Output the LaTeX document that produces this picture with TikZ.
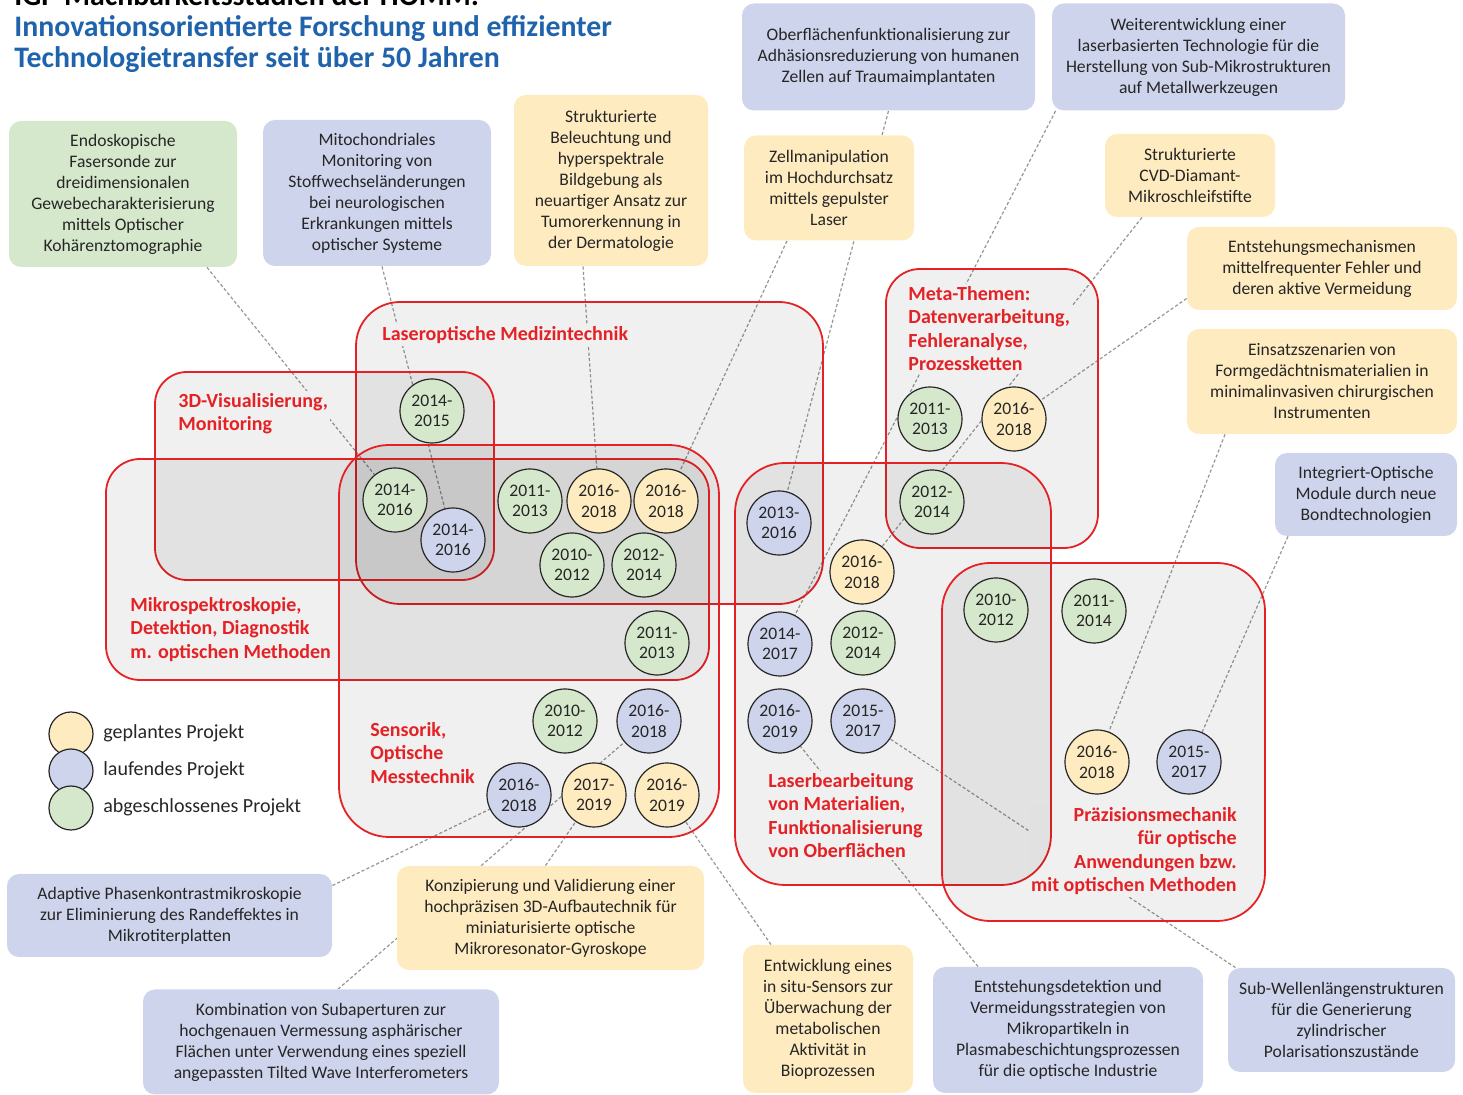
\documentclass[tikz,border=0pt]{standalone}
\usepackage{fontspec}
\setmainfont{Carlito}
\usepackage{tikz}
\usetikzlibrary{calc}

\definecolor{titleblue}{RGB}{31,99,172}
\definecolor{areared}{RGB}{228,34,38}
\definecolor{planfill}{RGB}{255,235,192}
\definecolor{runfill}{RGB}{206,212,236}
\definecolor{donefill}{RGB}{213,232,203}
\definecolor{inktext}{RGB}{38,38,38}
\definecolor{linkgray}{RGB}{150,150,150}

\pgfdeclarelayer{links}
\pgfdeclarelayer{areas}
\pgfsetlayers{links,areas,main}

\begin{document}
\begin{tikzpicture}[x=0.5pt, y=-0.5pt,
    boxbase/.style={rounded corners=6pt, align=center, inner sep=2pt, text=inktext,
      font=\fontsize{8.8}{10.5}\selectfont},
    pbox/.style={boxbase, fill=planfill},
    rbox/.style={boxbase, fill=runfill},
    dbox/.style={boxbase, fill=donefill},
    circbase/.style={circle, draw=black!85, line width=0.6pt, minimum size=32pt, inner sep=0pt,
      align=center, text=inktext, font=\fontsize{8.8}{10.3}\selectfont},
    pcirc/.style={circbase, fill=planfill},
    rcirc/.style={circbase, fill=runfill},
    dcirc/.style={circbase, fill=donefill},
    areabox/.style={draw=areared, line width=0.9pt, fill=black, fill opacity=0.06},
    topic/.style={text=areared, font=\bfseries\fontsize{10}{11.75}\selectfont, inner sep=1pt},
    link/.style={draw=linkgray, line width=0.6pt, dash pattern=on 1.6pt off 1.1pt},
    headline/.style={anchor=base west, inner sep=0pt, font=\bfseries\fontsize{14.9}{15.5}\selectfont},
    legtext/.style={anchor=west, inner sep=0pt, text=inktext, font=\fontsize{10}{12}\selectfont}
  ]
    \useasboundingbox (0,0) rectangle (1463,1095);

    % title
    \node[headline] (title0) at (14,6) {IGF-Machbarkeitsstudien der HOMM:};
    \node[headline, text=titleblue] (title1) at (14,37) {Innovationsorientierte Forschung und effizienter};
    \node[headline, text=titleblue] (title2) at (14,68) {Technologietransfer seit über 50 Jahren};

    % project boxes, top row
    \node[dbox, minimum width=114pt, minimum height=73pt] (endo) at (123,194)
      {Endoskopische\\Fasersonde zur\\dreidimensionalen\\Gewebecharakterisierung\\mittels Optischer\\Kohärenztomographie};
    \node[rbox, minimum width=114pt, minimum height=73pt] (mito) at (377,193)
      {Mitochondriales\\Monitoring von\\Stoffwechseländerungen\\bei neurologischen\\Erkrankungen mittels\\optischer Systeme};
    \node[pbox, minimum width=97pt, minimum height=85.5pt] (hyper) at (611,180.5)
      {Strukturierte\\Beleuchtung und\\hyperspektrale\\Bildgebung als\\neuartiger Ansatz zur\\Tumorerkennung in\\der Dermatologie};
    \node[rbox, minimum width=146.5pt, minimum height=53.5pt] (adh) at (888.5,57)
      {Oberflächenfunktionalisierung zur\\Adhäsionsreduzierung von humanen\\Zellen auf Traumaimplantaten};
    \node[rbox, minimum width=146.5pt, minimum height=53.5pt] (sub) at (1198.5,57)
      {Weiterentwicklung einer\\laserbasierten Technologie für die\\Herstellung von Sub-Mikrostrukturen\\auf Metallwerkzeugen};
    \node[pbox, minimum width=85pt, minimum height=52.5pt] (zell) at (829,188)
      {Zellmanipulation\\im Hochdurchsatz\\mittels gepulster\\Laser};

    % project boxes, right column
    \node[pbox, minimum width=85pt, minimum height=41.5pt] (cvd) at (1190,175.5)
      {Strukturierte\\CVD-Diamant-\\Mikroschleifstifte};
    \node[pbox, minimum width=135pt, minimum height=41.5pt] (mfehler) at (1322,268.5)
      {Entstehungsmechanismen\\mittelfrequenter Fehler und\\deren aktive Vermeidung};
    \node[pbox, minimum width=135pt, minimum height=52.5pt] (form) at (1322,381.5)
      {Einsatzszenarien von\\Formgedächtnismaterialien in\\minimalinvasiven chirurgischen\\Instrumenten};
    \node[rbox, minimum width=91pt, minimum height=41.5pt] (bond) at (1366,494.5)
      {Integriert-Optische\\Module durch neue\\Bondtechnologien};

    % project boxes, bottom row
    \node[rbox, minimum width=162.5pt, minimum height=41.5pt] (phasen) at (169.5,915.5)
      {Adaptive Phasenkontrastmikroskopie\\zur Eliminierung des Randeffektes in\\Mikrotiterplatten};
    \node[pbox, minimum width=153.5pt, minimum height=52pt] (gyro) at (550.5,918)
      {Konzipierung und Validierung einer\\hochpräzisen 3D-Aufbautechnik für\\miniaturisierte optische\\Mikroresonator-Gyroskope};
    \node[rbox, minimum width=178pt, minimum height=52.5pt] (twi) at (321,1042)
      {Kombination von Subaperturen zur\\hochgenauen Vermessung asphärischer\\Flächen unter Verwendung eines speziell\\angepassten Tilted Wave Interferometers};
    \node[pbox, minimum width=85pt, minimum height=74pt] (insitu) at (828,1019)
      {Entwicklung eines\\in situ-Sensors zur\\Überwachung der\\metabolischen\\Aktivität in\\Bioprozessen};
    \node[rbox, minimum width=135pt, minimum height=63pt] (plasma) at (1068,1030)
      {Entstehungsdetektion und\\Vermeidungsstrategien von\\Mikropartikeln in\\Plasmabeschichtungsprozessen\\für die optische Industrie};
    \node[rbox, minimum width=113.5pt, minimum height=52pt] (polar) at (1341.5,1020)
      {Sub-Wellenlängenstrukturen\\für die Generierung\\zylindrischer\\Polarisationszustände};

    % topic labels
    \node[topic, anchor=north west, align=left] (labmed) at (380,324) {Laseroptische Medizintechnik};
    \node[topic, anchor=north west, align=left] (labvis) at (176,391) {3D-Visualisierung,\\Monitoring};
    \node[topic, anchor=north west, align=left] (labspec) at (128,595)
      {Mikrospektroskopie,\\Detektion, Diagnostik\\m. optischen Methoden};
    \node[topic, anchor=north west, align=left] (labsens) at (368,720) {Sensorik,\\Optische\\Messtechnik};
    \node[topic, anchor=north west, align=left] (labmeta) at (906,284)
      {Meta-Themen:\\Datenverarbeitung,\\Fehleranalyse,\\Prozessketten};
    \node[topic, anchor=north west, align=left] (lablaser) at (766,771)
      {Laserbearbeitung\\von Materialien,\\Funktionalisierung\\von Oberflächen};
    \node[topic, anchor=north east, align=right] (labprec) at (1239,805)
      {Präzisionsmechanik\\für optische\\Anwendungen bzw.\\mit optischen Methoden};

    % projects: medical technology and microspectroscopy
    \node[dcirc] (m1) at (432,411) {2014-\\2015};
    \node[dcirc] (m2) at (395,500) {2014-\\2016};
    \node[rcirc] (m3) at (453,540) {2014-\\2016};
    \node[dcirc] (m4) at (530,501) {2011-\\2013};
    \node[pcirc] (m5) at (599,501) {2016-\\2018};
    \node[pcirc] (m6) at (666,501) {2016-\\2018};
    \node[dcirc] (m7) at (572,565) {2010-\\2012};
    \node[dcirc] (m8) at (644,565) {2012-\\2014};
    \node[dcirc] (m9) at (657,643) {2011-\\2013};

    % projects: sensors
    \node[dcirc] (s1) at (565,721) {2010-\\2012};
    \node[rcirc] (s2) at (649,721) {2016-\\2018};
    \node[rcirc] (s3) at (519,795) {2016-\\2018};
    \node[pcirc] (s4) at (594,795) {2017-\\2019};
    \node[pcirc] (s5) at (667,795) {2016-\\2019};

    % projects: meta topics
    \node[dcirc] (t1) at (930,419) {2011-\\2013};
    \node[pcirc] (t2) at (1014,419) {2016-\\2018};
    \node[dcirc] (t3) at (932,502) {2012-\\2014};

    % projects: laser processing
    \node[rcirc] (l1) at (779,523) {2013-\\2016};
    \node[pcirc] (l2) at (862,572) {2016-\\2018};
    \node[rcirc] (l3) at (780,644) {2014-\\2017};
    \node[dcirc] (l4) at (863,643) {2012-\\2014};
    \node[rcirc] (l5) at (780,721) {2016-\\2019};
    \node[rcirc] (l6) at (863,721) {2015-\\2017};

    % projects: precision mechanics
    \node[dcirc] (g1) at (996,610) {2010-\\2012};
    \node[dcirc] (g2) at (1094,611) {2011-\\2014};
    \node[pcirc] (g3) at (1097,762) {2016-\\2018};
    \node[rcirc] (g4) at (1189,762) {2015-\\2017};

    % legend
    \node[pcirc, minimum size=22pt] (keyplan) at (71,734) {};
    \node[rcirc, minimum size=22pt] (keyrun) at (71,771) {};
    \node[dcirc, minimum size=22pt] (keydone) at (71,808) {};
    \node[legtext] (txtplan) at (103,733) {geplantes Projekt};
    \node[legtext] (txtrun) at (103,770) {laufendes Projekt};
    \node[legtext] (txtdone) at (103,807) {abgeschlossenes Projekt};

    % topic areas
    \begin{pgfonlayer}{areas}
      \draw[areabox, rounded corners=22pt] (356,302) rectangle (823,604);
      \draw[areabox, rounded corners=16pt] (155,372) rectangle (494,580);
      \draw[areabox, rounded corners=17pt] (106,459) rectangle (709,680);
      \draw[areabox, rounded corners=25pt] (339,445) rectangle (719,837);
      \draw[areabox, rounded corners=17pt] (886,269) rectangle (1098,548);
      \draw[areabox, rounded corners=25pt] (735,463) rectangle (1051,885);
      \draw[areabox, rounded corners=24pt] (942,563) rectangle (1265,921);
    \end{pgfonlayer}

    % dotted links from boxes to projects
    \begin{pgfonlayer}{links}
      \draw[link] ($(endo.south)+(84,0)$) -- (m2);
      \draw[link] ($(mito.south)+(5,0)$) -- (m3);
      \draw[link] ($(hyper.south)+(-28,0)$) -- (m5);
      \draw[link] (adh.south) -- (l1);
      \draw[link] ($(sub.south west)+(4,0)$) -- (l3);
      \draw[link] ($(zell.south)+(-42,0)$) -- (m6);
      \draw[link] ($(cvd.south)+(-48,0)$) -- (l2);
      \draw[link] ($(mfehler.west)+(0,30)$) -- (t2);
      \draw[link] ($(form.south)+(-97,0)$) -- (g3);
      \draw[link] ($(bond.south)+(-78,0)$) -- (g4);
      \draw[link] ($(phasen.east)+(0,-30)$) -- (s3);
      \draw[link] ($(twi.north)+(17,0)$) -- (s2);
      \draw[link] ($(gyro.north)+(-5,0)$) -- (s4);
      \draw[link] ($(insitu.north)+(-57,0)$) -- (s5);
      \draw[link] ($(plasma.north)+(-90,0)$) -- (l5);
      \draw[link] ($(polar.north)+(-106,0)$) -- (l6);
      % keep the links out of the topic labels
      \foreach \lab in {labmed,labvis,labspec,labsens,labmeta,lablaser,labprec}
        \fill[white] (\lab.north west) rectangle (\lab.south east);
    \end{pgfonlayer}
\end{tikzpicture}
\end{document}
